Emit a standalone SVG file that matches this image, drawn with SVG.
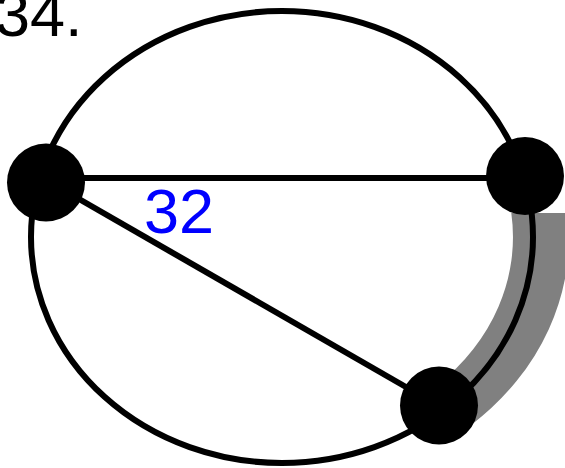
<svg xmlns="http://www.w3.org/2000/svg" width="565" height="468" viewBox="0 0 565 468">
  <style>
    .edge { stroke: #000; stroke-width: 6; fill: none; }
    .node { fill: #000; }
    .shadow { fill: #808080; stroke: none; }
    .title { font-family: "Liberation Sans", Arial, sans-serif; font-size: 63px; fill: #000; }
    .label { font-family: "Liberation Sans", Arial, sans-serif; font-size: 63px; fill: #0000ff; }
  </style>
  <rect width="565" height="468" fill="#fff"/>
  <text class="title" x="-5" y="36">34.</text>
  <g id="connectors">
    <path id="highlight" class="shadow" d="M 511.3 213 L 567.7 213 A 287 250 0 0 1 471.2 425 L 437.4 385 A 231 200 0 0 0 511.3 213 Z"/>
    <ellipse class="edge" cx="282" cy="237" rx="251" ry="226"/>
    <line class="edge" x1="46" y1="178" x2="525" y2="178"/>
    <line class="edge" x1="46" y1="180" x2="439" y2="406"/>
  </g>
  <g id="node-left"><circle class="node" cx="46" cy="182.5" r="39"/></g>
  <g id="node-right"><circle class="node" cx="525" cy="176" r="39"/></g>
  <g id="node-bottom"><circle class="node" cx="439" cy="405.5" r="39"/></g>
  <text class="label" x="144" y="233">32</text>
</svg>
